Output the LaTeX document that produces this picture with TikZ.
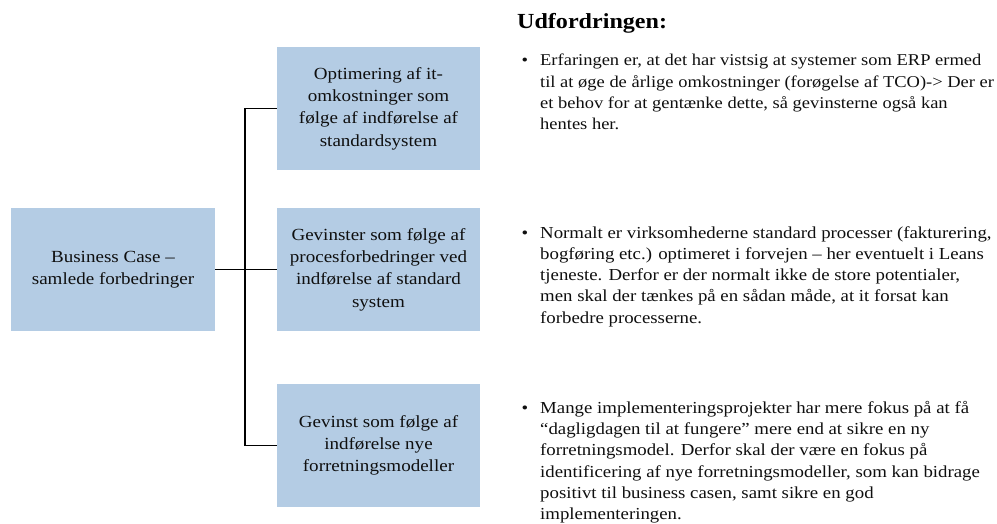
\documentclass[tikz,border=0pt]{standalone}
\usepackage{fontspec}
\setmainfont[FakeStretch=1.12]{Liberation Serif}
\definecolor{boxblue}{RGB}{180,204,228}
\definecolor{txtcol}{RGB}{15,15,15}
\begin{document}
\begin{tikzpicture}[x=1pt,y=-1pt,
  box/.style={fill=boxblue, minimum width=203pt, minimum height=123pt, inner sep=0pt,
    align=center, text=txtcol, font=\fontsize{17}{22.3}\selectfont},
  para/.style={anchor=north west, inner sep=0pt, align=left, text=txtcol,
    font=\fontsize{16.8}{21.3}\selectfont},
  conn/.style={draw=black, line width=1.3pt}]
\useasboundingbox (0,0) rectangle (997,524);
\node[box, minimum width=204pt] (bc) at (113,269.5) {Business Case –\\samlede forbedringer};
\node[box] (b1) at (378.5,108.5) {Optimering af it-\\omkostninger som\\følge af indførelse af\\standardsystem};
\node[box] (b2) at (378.5,269.5) {Gevinster som følge af\\procesforbedringer ved\\indførelse af standard\\system};
\node[box] (b3) at (378.5,445.5) {Gevinst som følge af\\indførelse nye\\forretningsmodeller};
\coordinate (j) at (245,269.5);
\draw[conn] (bc.east) -- (b2.west);
\draw[conn] (b1.west) -- (b1.west -| j) -- (b3.west -| j) -- (b3.west);
\node[anchor=base west, inner sep=0pt, text=black, font=\bfseries\fontsize{21.5}{26}\selectfont] (title) at (517,29) {Udfordringen:};
\node[para, font=\fontsize{16.5}{21.3}\selectfont] (p1) at (540,54) {\llap{•\hspace{12pt}}Erfaringen er, at det har vistsig at systemer som ERP ermed\\til at øge de årlige omkostninger (forøgelse af TCO)-> Der er\\et behov for at gentænke dette, så gevinsterne også kan\\hentes her.};
\node[para] (p2) at (540,226) {\llap{•\hspace{12pt}}Normalt er virksomhederne standard processer (fakturering,\\bogføring etc.) optimeret i forvejen – her eventuelt i Leans\\tjeneste. Derfor er der normalt ikke de store potentialer,\\men skal der tænkes på en sådan måde, at it forsat kan\\forbedre processerne.};
\node[para] (p3) at (540,401) {\llap{•\hspace{12pt}}Mange implementeringsprojekter har mere fokus på at få\\“dagligdagen til at fungere” mere end at sikre en ny\\forretningsmodel. Derfor skal der være en fokus på\\identificering af nye forretningsmodeller, som kan bidrage\\positivt til business casen, samt sikre en god\\implementeringen.};
\end{tikzpicture}
\end{document}
